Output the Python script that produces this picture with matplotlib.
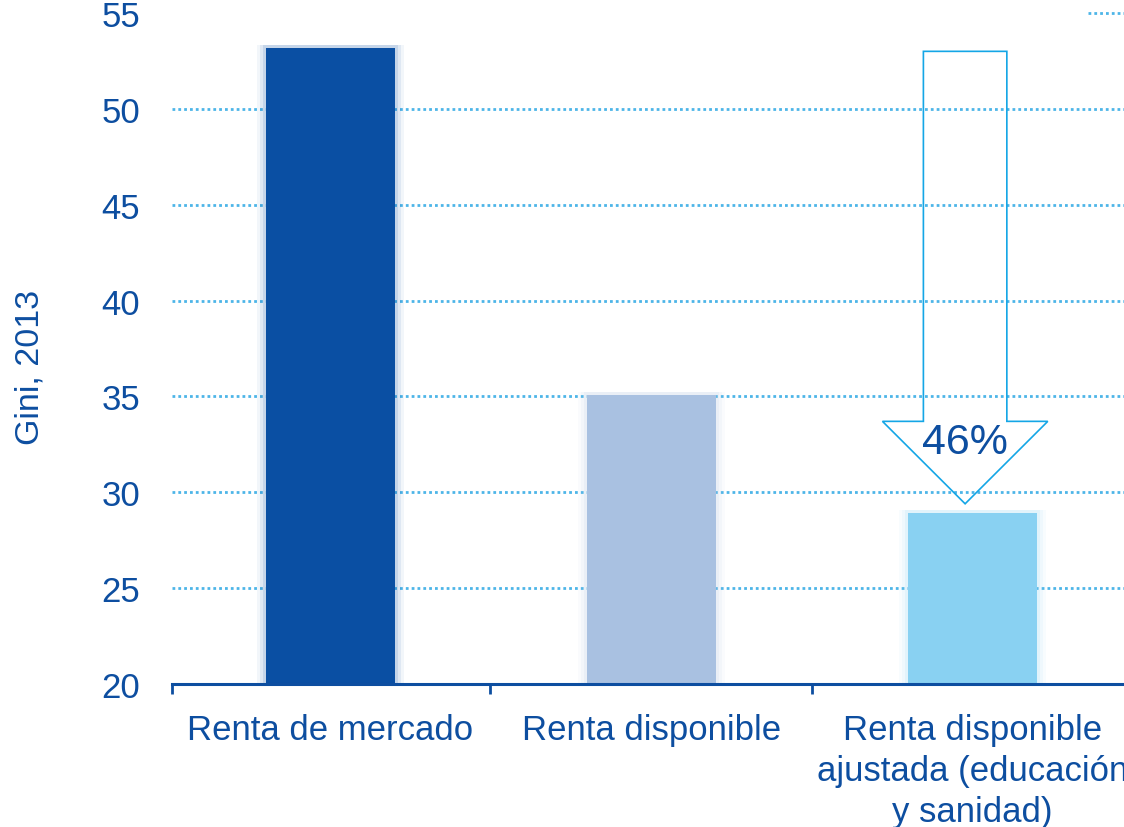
import matplotlib
matplotlib.use("Agg")
import matplotlib.pyplot as plt
from matplotlib.patches import FancyArrow

plt.rcParams['font.family'] = ['Liberation Sans', 'DejaVu Sans']

categories = ["Renta de mercado", "Renta disponible",
              "Renta disponible\najustada (educación\ny sanidad)"]
gini_values = [53.2, 35.1, 28.9]
bar_colors = ["#0A4FA3", "#A9C1E1", "#89D1F2"]
y_ticks = [20, 25, 30, 35, 40, 45, 50, 55]
arrow_start = 53.0
arrow_end = 29.4
arrow_label = "46%"
y_label = "Gini, 2013"

text_color = "#0D4EA0"
grid_color = "#4DB5E8"

fig = plt.figure(figsize=(11.24, 8.28), dpi=100)
ax = fig.add_axes([172/1124, (828-685)/828, (1124-172)/1124, (685-14)/828])

x = list(range(len(categories)))
ax.set_xlim(-0.494, 2.472)
ax.set_ylim(20, 55)

# gridlines
for v in y_ticks[1:-1]:
    ax.axhline(v, color=grid_color, lw=2.0, linestyle=(0, (1, 1.1)), zorder=1)
ax.axhline(y_ticks[-1], xmin=0.962, color=grid_color, lw=2.0,
           linestyle=(0, (1, 1.1)), zorder=1, clip_on=False)

# soft shadow bars
for w, a in [(0.46, 0.05), (0.44, 0.08), (0.42, 0.12)]:
    ax.bar(x, [g + 0.15 for g in gini_values], width=w, bottom=0,
           color=bar_colors, alpha=a, zorder=2, linewidth=0)
ax.bar(x, gini_values, width=0.40, color=bar_colors, zorder=3, linewidth=0)

# hollow arrow
arr = FancyArrow(1.977, arrow_start, 0, arrow_end - arrow_start,
                 width=0.26, head_width=0.515, head_length=4.3,
                 length_includes_head=True, facecolor="none",
                 edgecolor="#14A6E6", linewidth=1.2, zorder=4)
ax.add_patch(arr)
ax.text(1.977, 32.6, arrow_label, ha="center", va="center",
        fontsize=31, color=text_color, zorder=5)

# spines
for s in ["left", "top", "right"]:
    ax.spines[s].set_visible(False)
ax.spines["bottom"].set_color(text_color)
ax.spines["bottom"].set_linewidth(2.2)
ax.spines["bottom"].set_zorder(6)

ax.set_yticks(y_ticks)
ax.set_yticklabels([str(t) for t in y_ticks])
ax.tick_params(axis="y", length=0, pad=23, labelsize=25, labelcolor=text_color)

ax.set_xticks([-0.494, 0.497, 1.5])
ax.set_xticklabels([])
ax.tick_params(axis="x", which="major", length=7, width=2, color=text_color,
               direction="out")
ax.set_xticks(x, minor=True)
ax.set_xticklabels(categories, minor=True, linespacing=1.3)
ax.tick_params(axis="x", which="minor", length=0, pad=21, labelsize=25,
               labelcolor=text_color)

fig.text(30/1124, (828-367)/828, y_label, rotation=90, ha="center",
         va="center", fontsize=24.5, color=text_color)

fig.savefig("out.png", dpi=100)
